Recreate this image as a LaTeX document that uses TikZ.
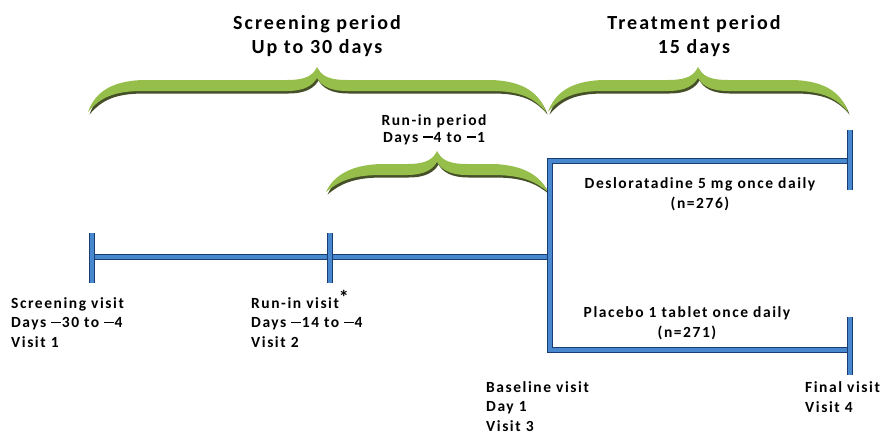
\documentclass[tikz,border=0pt]{standalone}
\usepackage{fontspec}
\setmainfont{Carlito}[LetterSpace=10]
\usepackage{xcolor}
\definecolor{armblue}{RGB}{70,135,205}
\definecolor{armdark}{RGB}{25,60,115}
\definecolor{leafgreen}{RGB}{150,190,75}
\definecolor{leafshade}{RGB}{70,80,40}
\newcommand{\lmin}{\rule[0.27em]{0.62em}{0.1em}\kern0.05em}
\tikzset{tube/.style={draw=armblue,line width=3.4pt,
   preaction={draw=armdark,line width=6pt}},
 lbl/.style={font=\bfseries\fontsize{15.5}{19.5}\selectfont,align=left,anchor=base west,inner sep=0pt},
 arm/.style={font=\bfseries\fontsize{15.5}{20}\selectfont,align=center,anchor=base,inner sep=0pt},
 head/.style={font=\bfseries\fontsize{20}{24}\selectfont,align=center,anchor=base,inner sep=0pt},
 }
% green brace: centre x, tip y, half width, end depth
\newcommand{\leafbrace}[4]{%
 \begin{scope}[shift={(#1,#2)}]
 \foreach \col/\dx/\dy in {leafshade/1.5/2.5,leafgreen/0/0}
  \fill[\col,shift={(\dx,\dy)}] (-#3,#4) .. controls ({-#3+6},28) and ({-#3+20},14) .. ({-#3+55},13)
   -- (-30,13) .. controls (-10,13) and (-4,8) .. (0,0)
   .. controls (4,8) and (10,13) .. (30,13) -- ({#3-55},13)
   .. controls ({#3-20},14) and ({#3-6},28) .. (#3,#4)
   .. controls ({#3-12},31) and ({#3-25},24) .. ({#3-55},24)
   -- (30,24) .. controls (12,24) and (4,18) .. (0,11)
   .. controls (-4,18) and (-12,24) .. (-30,24) -- ({-#3+55},24)
   .. controls ({-#3+25},24) and ({-#3+12},31) .. (-#3,#4) -- cycle;
 \end{scope}}

\begin{document}
\begin{tikzpicture}[x=1pt,y=-1pt]
 \useasboundingbox (0,0) rectangle (883,436);
 % braces
 \leafbrace{317}{67}{229}{45}
 \leafbrace{698}{67}{150}{45}
 \leafbrace{437}{151}{111}{41}
 \node[head] (scrhead) at (317,53) {Screening period\\Up to 30 days};
 \node[head] (trthead) at (694,53) {Treatment period\\15 days};
 \node[lbl,align=center,anchor=base,font=\bfseries\fontsize{15.5}{17}\selectfont] (runhead) at (434,142) {Run-in period\\Days \lmin4 to \lmin1};
 % timeline
 \coordinate (scr) at (92,257);
 \coordinate (run) at (330,257);
 \coordinate (base) at (550,257);
 \coordinate (armA) at (550,161);
 \coordinate (armB) at (550,350);
 \coordinate (endA) at (850,161);
 \coordinate (endB) at (850,350);
 \draw[tube] (scr) -- (base);
 \draw[tube,line join=miter] (endA) -- (armA) -- (armB) -- (endB);
 \draw[tube] (scr) ++(0,-24) -- ++(0,50);
 \draw[tube] (run) ++(0,-24) -- ++(0,50);
 \draw[tube] (endA) ++(0,-31) -- ++(0,60);
 \draw[tube] (endB) ++(0,-33) -- ++(0,58);
 \node[arm] (desl) at (700,208) {Desloratadine 5 mg once daily\\(n=276)};
 \node[arm] (plac) at (687,337) {Placebo 1 tablet once daily\\(n=271)};
 % visits
 \node[lbl] (v1) at (11,347) {Screening visit\\Days \lmin30 to \lmin4\\Visit 1};
 \node[lbl] (v2) at (251,347) {Run-in visit\raisebox{0.25em}{\fontsize{20}{20}\selectfont *}\\Days \lmin14 to \lmin4\\Visit 2};
 \node[lbl] (v3) at (486,431) {Baseline visit\\Day 1\\Visit 3};
 \node[lbl] (v4) at (805,412) {Final visit\\Visit 4};
\end{tikzpicture}
\end{document}
